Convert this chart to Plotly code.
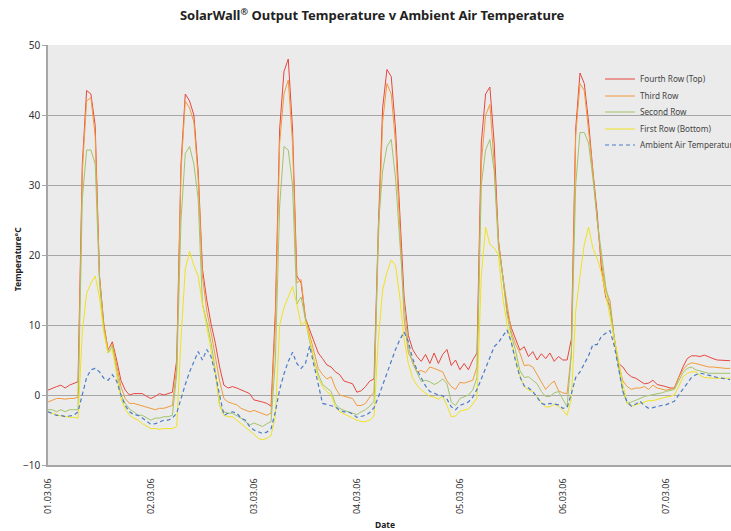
import pandas as pd
import plotly.graph_objects as go

# hourly readings from 01.03.06 00:00
times = pd.date_range("2006-03-01 00:00", periods=160, freq="h")

fourth_row = [
    0.7, 1.0, 1.2, 1.4, 1.0, 1.4, 1.7, 1.9, 33, 43.5, 43, 38.5, 17, 10.2, 6.4, 7.6, 5.0, 2.1, 0.7, 0.0, 0.2, 0.2, 0.2, -0.2,
    -0.5, -0.2, 0.2, 0.0, 0.2, 0.4, 5, 33, 43, 42, 40, 32, 18, 13.6, 10.2, 7.4, 4.0, 1.4, 1.0, 1.2, 1.0, 0.7, 0.5, 0.2,
    -0.7, -0.8, -1.0, -1.2, -1.6, 12, 38, 46.2, 48, 38, 17, 16, 11, 9.3, 7.5, 6.0, 5.2, 4.3, 4.0, 3.3, 2.9, 2.0, 1.8, 1.6,
    0.4, 0.6, 1.2, 2.0, 2.3, 24, 41, 46.5, 45.5, 38, 26, 14, 8.5, 6.5, 5.5, 4.8, 5.8, 4.5, 6.0, 4.5, 5.8, 6.5, 4.2, 5.0,
    3.6, 4.5, 3.6, 5.0, 6, 36, 43, 44, 36, 22, 17, 12, 9.6, 7.9, 6.4, 6.9, 5.5, 6.2, 5.0, 5.9, 5.2, 6.0, 4.8, 5.5,
    5.0, 5.0, 8, 38, 46, 44.5, 39, 32, 26, 18, 14, 12.5, 8, 4.5, 4.0, 3.1, 2.6, 2.4, 2.0, 1.6, 1.7, 2.1, 1.5, 1.4,
    1.2, 1.0, 1.0, 2.5, 4.0, 5.2, 5.6, 5.6, 5.5, 5.7, 5.4, 5.2, 5.0, 5.0, 4.9, 4.9,
]
third_row = [
    -1.0, -0.7, -0.5, -0.5, -0.6, -0.5, -0.5, -0.3, 32, 42, 42.5, 37, 17, 10, 6.5, 7.3, 4.5, 1.2, -0.5, -1.2, -1.2, -1.4, -1.6, -1.8,
    -2.0, -2.1, -1.9, -1.9, -1.7, -1.5, 4, 32, 42, 41, 39, 31, 17, 12, 9, 5.5, 2, -0.5, -1.0, -1.2, -1.4, -1.9, -2.1, -2.4,
    -2.2, -2.4, -2.6, -2.9, -2.6, 10, 36, 43, 45, 36, 16, 16.5, 11, 8.6, 6, 3.8, 2.9, 2.3, 2.6, 1.0, 0.0, -0.2, -0.3, -0.5,
    -1.5, -1.5, -1.2, -0.3, 0.4, 22, 39, 44.5, 43, 36, 24, 11, 6, 4.8, 3.3, 3.5, 3.2, 4.0, 3.8, 3.5, 3.3, 2.0, 1.2, 0.8,
    1.8, 1.7, 1.9, 2.1, 4, 33, 40, 41.5, 33, 22, 17, 13, 9, 7.2, 6, 4.2, 4.3, 4.0, 3.0, 2.0, 0.8, 1.5, 2.0, 0.6,
    0.3, 0.2, 6, 37, 44.5, 43.5, 38, 32, 25, 19, 15, 13.5, 8, 4.5, 2.0, 1.2, 0.8, 1.0, 1.0, 1.2, 0.8, 1.4, 1.0, 0.9,
    0.7, 0.8, 1.0, 2.5, 3.6, 4.3, 4.6, 4.5, 4.3, 4.2, 4.0, 4.0, 3.9, 3.8, 3.8, 3.8,
]
second_row = [
    -2.1, -2.1, -2.4, -2.1, -2.4, -2.1, -2.1, -2.1, 28, 35, 35, 33, 16, 9.5, 6, 7, 3.5, 0.0, -1.2, -2.0, -2.4, -2.9, -2.9, -3.3,
    -3.6, -3.3, -3.3, -3.1, -3.1, -2.9, 3, 25, 34.5, 35.5, 33, 28, 13, 10.5, 7.5, 3.5, -1.5, -2.4, -2.6, -2.6, -2.9, -3.3, -3.8, -4.3,
    -4.0, -4.3, -4.5, -4.1, -3.8, 5, 27, 35.5, 35, 30, 13, 14, 10.5, 7.6, 5, 3, 1.5, 1.0, 0.5, -1.3, -1.9, -2.2, -2.4, -2.6,
    -2.8, -2.4, -2.1, -1.6, -0.9, 24, 32, 35.5, 36.5, 31, 22, 13, 7, 4.5, 3.2, 1.9, 2.1, 1.9, 1.5, 1.8, 2.3, 1.6, -1.0, -1.5,
    -0.5, -0.2, 0.0, 0.7, 2.5, 30, 35, 36.5, 32, 21, 17, 11.5, 8.5, 6.3, 3.5, 2.5, 2.6, 2.1, 1.6, 0.5, -0.2, -0.2, 0.3, 0.5,
    -0.5, -1.7, 6, 30, 37.5, 37.5, 36, 31, 25, 20, 15.5, 12.5, 8, 4, 0.5, -1.2, -1.0, -0.8, -0.5, -0.2, -0.1, 0.0, 0.2, 0.3,
    0.5, 0.6, 0.8, 2.0, 3.2, 3.8, 4.0, 3.6, 3.4, 3.3, 3.1, 3.1, 3.1, 3.1, 3.1, 3.1,
]
first_row = [
    -2.4, -2.6, -2.9, -3.0, -3.1, -3.1, -3.2, -3.3, 9, 14.5, 16, 17, 14, 9, 6, 6.5, 3, -0.5, -2.0, -2.9, -3.3, -3.6, -4.1, -4.5,
    -4.8, -4.8, -4.9, -4.8, -4.8, -4.8, -4.5, 8, 18, 20.5, 18.5, 17, 13, 10, 6.5, 3, -1.5, -2.9, -3.1, -3.1, -3.6, -4.1, -4.5, -5.0,
    -5.6, -6.2, -6.4, -6.2, -5.8, -3, 10, 12.5, 14, 15.5, 13, 10, 10.5, 8.1, 5, 2.5, 1.2, 0.5, 0.0, -1.7, -2.4, -2.7, -3.1, -3.3,
    -3.6, -3.8, -3.8, -3.6, -3.0, 8, 15, 17.5, 19.3, 18.5, 14, 8, 4.5, 2.4, 1.4, 0.7, 0.2, -0.2, -0.3, -0.6, -0.2, -1.5, -3.1, -3.0,
    -2.3, -2.2, -2.0, -1.3, -0.4, 17, 24, 21.5, 21, 20, 14, 10, 7.5, 5.2, 2.8, 1.2, 0.7, 0.5, -0.3, -1.1, -1.7, -1.7, -1.3, -1.6,
    -2.2, -2.9, -0.5, 12, 17, 21.5, 24, 21, 19.5, 17.5, 14.5, 11, 8, 5, 1.5, -1.2, -1.6, -1.4, -1.2, -1.0, -0.8, -0.8, -0.6, -0.5,
    -0.3, -0.2, 0.0, 1.2, 2.6, 3.1, 3.3, 3.3, 2.8, 2.5, 2.4, 2.4, 2.4, 2.4, 2.4, 2.4,
]
ambient = [
    -2.4, -2.6, -2.9, -2.9, -3.1, -3.0, -2.9, -2.4, 0.0, 2.5, 3.6, 3.8, 3.3, 2.4, 2.1, 2.9, 2.0, 0.0, -1.5, -2.4, -2.8, -2.9, -3.3, -3.8,
    -4.2, -4.1, -3.8, -3.6, -3.6, -3.3, -2.6, -0.5, 1.5, 3.3, 4.8, 6.2, 5.0, 6.5, 5.5, 3.0, 0.0, -2.9, -2.6, -2.4, -2.6, -3.3, -3.6, -4.5,
    -5.0, -5.2, -5.5, -5.3, -4.8, -2.4, 0.8, 3.0, 4.8, 6.1, 4.5, 3.8, 4.5, 7.0, 4.0, 1.5, -1.2, -1.4, -1.5, -1.7, -2.2, -2.4, -2.4, -2.7,
    -3.2, -3.1, -2.9, -2.5, -1.8, -0.3, 1.4, 3.3, 5.0, 6.5, 7.9, 9.0, 7.6, 5.2, 3.6, 2.4, 1.3, 0.5, 0.2, 0.0, -0.1, -0.6, -1.7, -2.1,
    -1.5, -1.2, -1.0, -0.3, 0.8, 2.3, 3.9, 5.5, 6.9, 7.5, 8.4, 9.3, 7.5, 4.8, 2.6, 1.3, 1.0, 0.5, -0.3, -1.2, -1.4, -1.2, -1.3, -1.4,
    -1.9, -1.8, 0.2, 2.5, 3.3, 4.5, 5.6, 7.2, 7.2, 8.4, 8.8, 9.2, 7.0, 3.5, 0.5, -1.0, -1.6, -1.3, -0.9, -1.5, -1.9, -1.8, -1.6, -1.5,
    -1.4, -1.2, -0.9, 0.0, 0.8, 1.7, 2.5, 2.9, 3.1, 3.0, 2.8, 2.7, 2.5, 2.4, 2.3, 2.2,
]

series_names = ["Fourth Row (Top)", "Third Row", "Second Row", "First Row (Bottom)", "Ambient Air Temperature"]
tick_days = ["2006-03-01", "2006-03-02", "2006-03-03", "2006-03-04", "2006-03-05", "2006-03-06", "2006-03-07"]
tick_labels = ["01.03.06", "02.03.06", "03.03.06", "04.03.06", "05.03.06", "06.03.06", "07.03.06"]

styles = [
    dict(color="#e6473f", width=1),
    dict(color="#f29b3c", width=1),
    dict(color="#a3c46a", width=1),
    dict(color="#f0e21e", width=1),
    dict(color="#4a7cc9", width=1.2, dash="4px,3px"),
]
values = [fourth_row, third_row, second_row, first_row, ambient]

FONT = "Noto Sans"
legend_ids = ["legend", "legend2", "legend3", "legend4", "legend5"]
legend_rows_px = [79, 96, 112, 129, 145]  # row centres in page pixels

fig = go.Figure()
for name, vals, st, lid in zip(series_names, values, styles, legend_ids):
    fig.add_trace(go.Scatter(x=times, y=vals, mode="lines", name=name, line=st, legend=lid))

legend_layouts = {}
for lid, ypx in zip(legend_ids, legend_rows_px):
    legend_layouts[lid] = dict(
        x=(600 - 48) / 683, xanchor="left", y=(465 - ypx) / 420, yanchor="middle",
        bgcolor="rgba(0,0,0,0)", borderwidth=0,
        font=dict(family=FONT, size=8.2, color="#444444"),
    )

fig.update_layout(
    width=731, height=531,
    margin=dict(l=48, r=0, t=45, b=66, autoexpand=False),
    paper_bgcolor="white",
    plot_bgcolor="#ebebeb",
    font=dict(family=FONT, size=10, color="#333333"),
    title=dict(
        text="<b>SolarWall<sup>®</sup> Output Temperature v Ambient Air Temperature</b>",
        x=0.509, xref="container", xanchor="center",
        y=0.97, yref="container", yanchor="middle",
        font=dict(family=FONT, size=13, color="#222222"),
    ),
    showlegend=True,
    xaxis=dict(
        type="date",
        range=["2006-03-01 00:00", "2006-03-07 15:12"],
        tickvals=tick_days, ticktext=tick_labels,
        tickangle=-90,
        tickfont=dict(size=9, color="#333333"),
        showgrid=False, zeroline=False,
        showline=True, linecolor="#a6a6a6", linewidth=1.5,
        ticks="", ticklabelstandoff=8,
        automargin=False,
    ),
    yaxis=dict(
        range=[-10, 50], dtick=10, tick0=0,
        showgrid=True, gridcolor="#a6a6a6", gridwidth=1.3,
        zeroline=False,
        showline=True, linecolor="#a6a6a6", linewidth=1.5,
        ticks="outside", ticklen=4, tickcolor="#a6a6a6",
        tickfont=dict(size=10, color="#333333"),
        automargin=False,
    ),
    annotations=[
        dict(text="<b>Temperature°C</b>", xref="paper", yref="paper",
             x=-0.0454, y=0.49, xanchor="center", yanchor="middle",
             textangle=-90, showarrow=False, font=dict(family=FONT, size=8.5, color="#222222")),
        dict(text="<b>Date</b>", xref="paper", yref="paper",
             x=0.4934, y=-0.1405, xanchor="center", yanchor="middle",
             showarrow=False, font=dict(family=FONT, size=8.5, color="#222222")),
    ],
    **legend_layouts,
)

fig.write_html(
    "out.html",
    config={"displayModeBar": False},
    post_script="document.body.style.margin='0';document.body.style.overflow='hidden';",
)
